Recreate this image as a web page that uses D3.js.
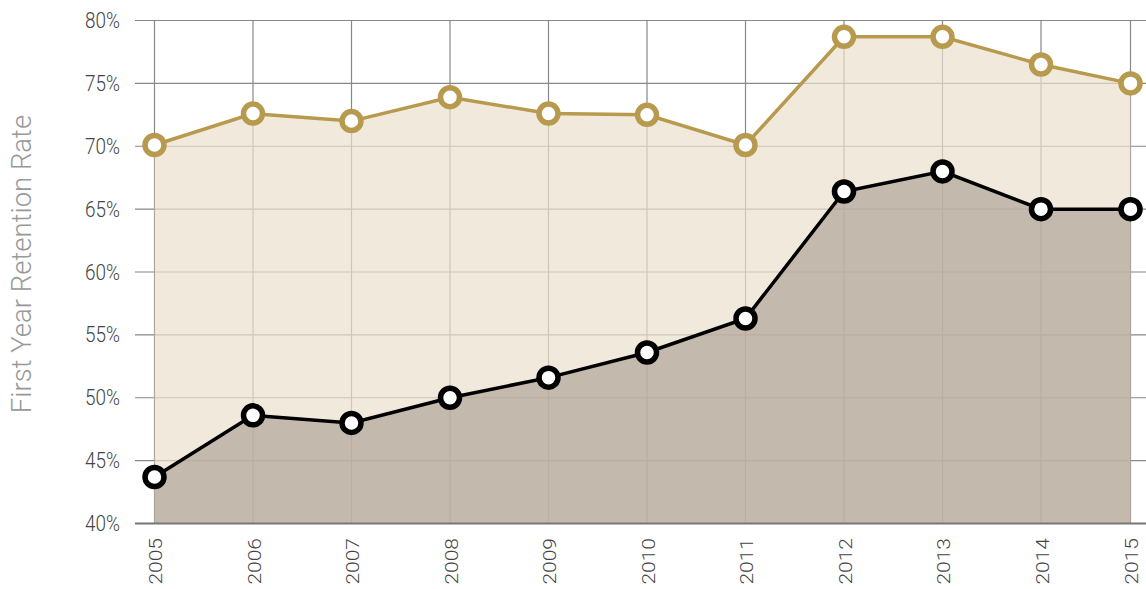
<!DOCTYPE html>
<html>
<head>
<meta charset="utf-8">
<script src="https://cdn.jsdelivr.net/npm/d3@7"></script>
<style>
  body { margin: 0; background: #fff; }
  svg text { font-family: "Roboto", "Liberation Sans", sans-serif; font-weight: 300; }
</style>
</head>
<body>
<svg id="chart-area" width="1146" height="589"></svg>
<script>
// data
var years = [2005, 2006, 2007, 2008, 2009, 2010, 2011, 2012, 2013, 2014, 2015];
var upperRate = [70.1, 72.6, 72.0, 73.9, 72.6, 72.5, 70.1, 78.7, 78.7, 76.5, 75.0];
var lowerRate = [43.7, 48.6, 48.0, 50.0, 51.6, 53.6, 56.3, 66.4, 68.0, 65.0, 65.0];
var yTicks = [40, 45, 50, 55, 60, 65, 70, 75, 80];

var svgWidth = 1146;
var svgHeight = 589;
var svg = d3.select('#chart-area');

// the original squeezes the last year against the right edge
var xScale = d3.scaleLinear()
          .domain([2005, 2015])
          .range([154.5, 1139.5]);
var xMax = 1130.5;
var x = function(d){ return Math.min(xScale(d), xMax); };

var y = d3.scaleLinear()
          .domain([40, 80])
          .range([523.5, 20.5]);

var gridLeft = 135;

// grid first, areas are translucent on top of it
var grid = svg.append('g');
grid.selectAll('.hgrid').data(yTicks.slice(1))
    .enter().append('line')
    .attr('x1', gridLeft).attr('x2', svgWidth)
    .attr('y1', d => y(d)).attr('y2', d => y(d))
    .attr('stroke', '#888').attr('stroke-width', 1.2);

grid.selectAll('.vgrid').data(years)
    .enter().append('line')
    .attr('x1', d => x(d)).attr('x2', d => x(d))
    .attr('y1', y(80)).attr('y2', y(40))
    .attr('stroke', '#888').attr('stroke-width', 1.2);

var series = [
  {values: upperRate, fill: 'rgb(235,224,205)', stroke: '#b89a4e'},
  {values: lowerRate, fill: 'rgb(177,164,153)', stroke: '#000'}
];

var area = d3.area()
             .x((d, i) => x(years[i]))
             .y0(y(40))
             .y1(d => y(d));

var line = d3.line()
             .x((d, i) => x(years[i]))
             .y(d => y(d));

series.forEach(s => {
  svg.append('path')
     .datum(s.values)
     .attr('d', area)
     .attr('fill', s.fill)
     .attr('fill-opacity', 0.7);
});

// bottom axis line
svg.append('line')
   .attr('x1', gridLeft).attr('x2', svgWidth)
   .attr('y1', y(40)).attr('y2', y(40))
   .attr('stroke', '#777').attr('stroke-width', 2);

series.forEach(s => {
  svg.append('path')
     .datum(s.values)
     .attr('d', line)
     .attr('fill', 'none')
     .attr('stroke', s.stroke)
     .attr('stroke-width', 3.5);

  svg.append('g').selectAll('circle').data(s.values)
     .enter().append('circle')
     .attr('cx', (d, i) => x(years[i]))
     .attr('cy', d => y(d))
     .attr('r', 9.5)
     .attr('fill', '#fff')
     .attr('stroke', s.stroke)
     .attr('stroke-width', 5.5);
});

// y tick labels (condensed look)
svg.append('g').selectAll('text').data(yTicks)
   .enter().append('text')
   .attr('transform', d => 'translate(120,' + (y(d) + 7.5) + ') scale(0.86,1)')
   .attr('text-anchor', 'end')
   .attr('font-size', 22)
   .attr('fill', '#444')
   .text(d => d + '%');

// x tick labels, rotated
svg.append('g').selectAll('text').data(years)
   .enter().append('text')
   .attr('transform', d => 'translate(' + (x(d) + 7.5) + ',538) rotate(-90) scale(1,0.86)')
   .attr('text-anchor', 'end')
   .attr('font-size', 21)
   .attr('fill', '#444')
   .text(d => d);

svg.append('text')
   .attr('transform', 'translate(31,264) rotate(-90)')
   .attr('text-anchor', 'middle')
   .attr('font-size', 27.5)
   .attr('fill', '#999')
   .text('First Year Retention Rate');
</script>
</body>
</html>
